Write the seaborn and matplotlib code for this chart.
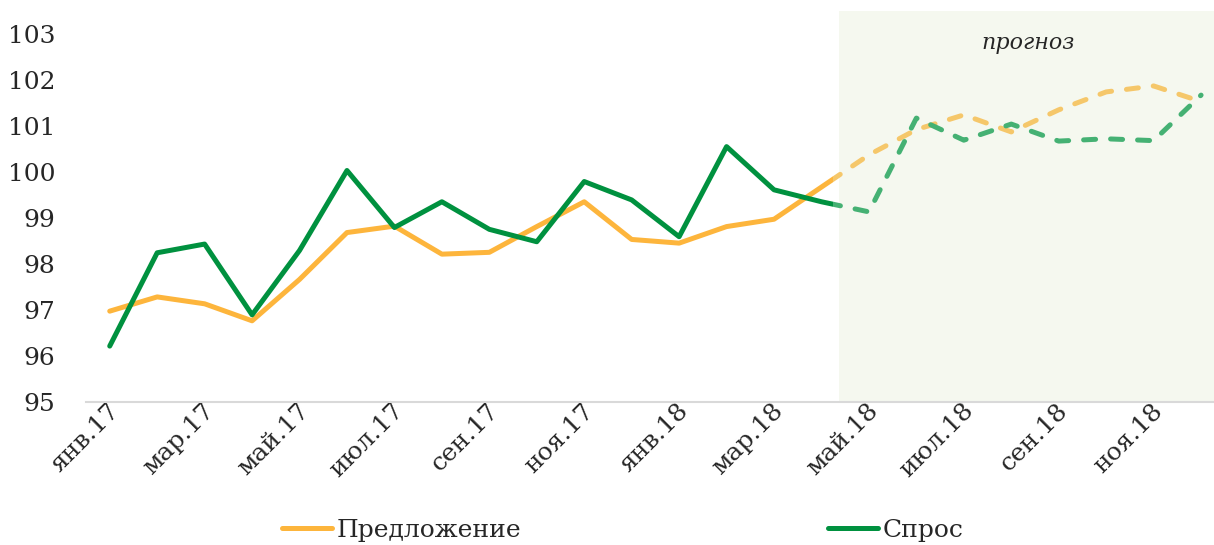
import matplotlib
matplotlib.use('Agg')
import matplotlib.pyplot as plt
import matplotlib.transforms as mtransforms
import pandas as pd
import seaborn as sns
import numpy as np
from matplotlib.patches import Rectangle
from matplotlib.lines import Line2D

# months jan.17 .. dec.18
months = ['янв.17', 'фев.17', 'мар.17', 'апр.17', 'май.17', 'июн.17',
          'июл.17', 'авг.17', 'сен.17', 'окт.17', 'ноя.17', 'дек.17',
          'янв.18', 'фев.18', 'мар.18', 'апр.18', 'май.18', 'июн.18',
          'июл.18', 'авг.18', 'сен.18', 'окт.18', 'ноя.18', 'дек.18']

supply = [96.97, 97.28, 97.13, 96.76, 97.66, 98.68, 98.82, 98.21, 98.25, 98.81, 99.35, 98.53,
          98.45, 98.81, 98.97, 99.67, 100.37, 100.92, 101.24, 100.87, 101.35, 101.74, 101.87, 101.53]
demand = [96.21, 98.24, 98.43, 96.89, 98.29, 100.03, 98.79, 99.35, 98.75, 98.48, 99.79, 99.39,
          98.59, 100.55, 99.61, 99.35, 99.13, 101.17, 100.69, 101.04, 100.67, 100.72, 100.68, 101.67]

forecast_start = 15.36   # where the shaded "прогноз" block begins
split = 15.25            # solid -> dashed switch

df = pd.DataFrame({'idx': np.arange(len(months)), 'supply': supply, 'demand': demand})

sns.set_style('white')
plt.rcParams['font.family'] = ['DejaVu Serif']

fig = plt.figure(figsize=(12.14, 5.45), dpi=100)
ax = fig.add_axes([86 / 1214, 143.3 / 545, 1138.8 / 1214, 367.7 / 545])

orange, green = '#FDB53C', '#00913F'
orange_f, green_f = '#F5C76A', '#45B173'

# forecast shading (goes a bit above the top tick)
span = ax.axvspan(forecast_start, 24, ymin=0, ymax=1.063, color='#F5F8EF', lw=0, zorder=0)
span.set_clip_on(False)

lw = 3.6
for col, c_solid, c_dash in [('supply', orange, orange_f), ('demand', green, green_f)]:
    sns.lineplot(data=df, x='idx', y=col, ax=ax, color=c_solid, lw=lw, zorder=3)
    solid = ax.lines[-1]
    solid.set_solid_capstyle('round')
    solid.set_clip_path(Rectangle((-1, 90), split + 1, 20, transform=ax.transData))
    sns.lineplot(data=df, x='idx', y=col, ax=ax, color=c_dash, lw=lw, zorder=2)
    dashed = ax.lines[-1]
    dashed.set_dashes((2.4, 3.0))
    dashed.set_dash_capstyle('round')
    dashed.set_clip_path(Rectangle((split, 90), 20, 20, transform=ax.transData))

ax.set_xlim(-0.5, 23.5)
ax.set_ylim(95, 103)
ax.set_yticks(range(95, 104))
ax.set_xticks(np.arange(0, 24, 2))
ax.set_xticklabels(months[::2])
ax.set_xticks(np.arange(-0.5, 24, 2), minor=True)
ax.tick_params(axis='x', which='major', length=0, pad=4, labelsize=18)
ax.tick_params(axis='x', which='minor', length=9, width=1.5, color='#D9D9D9', direction='out')
ax.tick_params(axis='y', length=0, pad=22, labelsize=18)
shift = mtransforms.ScaledTranslation(6 / 100, 0, fig.dpi_scale_trans)
for lab in ax.get_xticklabels():
    lab.set_rotation(45)
    lab.set_ha('right')
    lab.set_va('center')
    lab.set_rotation_mode('anchor')
    lab.set_transform(lab.get_transform() + shift)

for s in ['top', 'right', 'left']:
    ax.spines[s].set_visible(False)
ax.spines['bottom'].set_color('#D9D9D9')
ax.spines['bottom'].set_linewidth(1.5)
ax.set_xlabel('')
ax.set_ylabel('')
ax.grid(False)

ax.text(19.36, 102.8, 'прогноз', fontsize=16, style='italic', ha='center', va='center')

h1 = Line2D([], [], color=orange, lw=lw, solid_capstyle='round')
h2 = Line2D([], [], color=green, lw=lw, solid_capstyle='round')
for h, lab, x in [(h1, 'Предложение', 282), (h2, 'Спрос', 828)]:
    fig.legend([h], [lab], loc='center left', bbox_to_anchor=(x / 1214, 1 - 530 / 545),
               frameon=False, fontsize=18, handlelength=2.0, handletextpad=0.2,
               borderpad=0, borderaxespad=0)

fig.savefig('out.png', dpi=100)
